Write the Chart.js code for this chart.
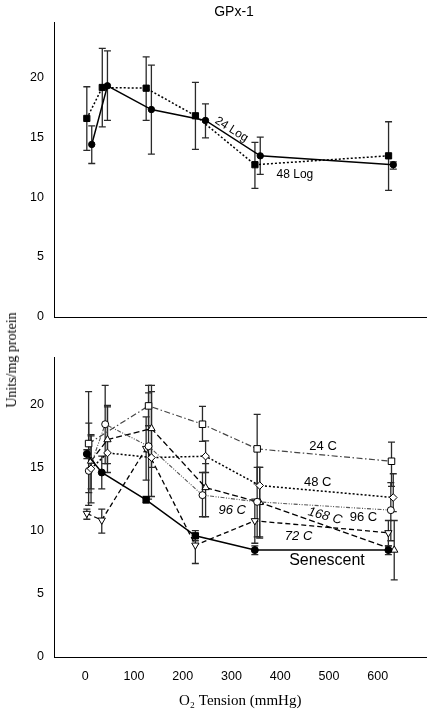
<!DOCTYPE html>
<html><head><meta charset="utf-8">
<script src="https://cdn.jsdelivr.net/npm/chart.js@4/dist/chart.umd.min.js"></script>
<style>
html,body{margin:0;padding:0;background:#fff;width:432px;height:714px;overflow:hidden;position:relative;}
#c1{position:absolute;left:0;top:0;}
#c2{position:absolute;left:0;top:340px;}
#title{position:absolute;top:3px;left:0;width:468px;text-align:center;font:14px "Liberation Sans",Arial,sans-serif;color:#000;}
#ytitle{position:absolute;left:12px;top:360px;transform:translate(-50%,-50%) rotate(-90deg);font:14px "Liberation Serif","Times New Roman",serif;white-space:nowrap;color:#000;}
</style></head>
<body>
<canvas id="c1" width="432" height="340"></canvas>
<canvas id="c2" width="432" height="374"></canvas>
<div id="title">GPx-1</div>
<div id="ytitle">Units/mg protein</div>
<script>
// ---------- tick labels ----------
const xTicks = [0, 100, 200, 300, 400, 500, 600];
const yTicks = [0, 5, 10, 15, 20];

// ---------- top panel ----------
const top24LogX = [13.4, 45.6, 135.7, 246.6, 358.9, 631.7];
const top24LogY = [14.39, 19.28, 17.3, 16.39, 13.44, 12.7];
const top24LogLo = [12.8, 16.39, 13.58, 14.94, 11.89, 12.33];
const top24LogHi = [15.94, 22.2, 21.0, 17.78, 15.0, 12.94];

const top48LogX = [3.3, 35, 125, 226, 348, 622];
const top48LogY = [16.56, 19.14, 19.08, 16.78, 12.7, 13.44];
const top48LogLo = [13.9, 15.86, 16.4, 13.97, 10.72, 10.56];
const top48LogHi = [19.2, 22.4, 21.7, 19.56, 14.56, 16.28];

// ---------- bottom panel ----------
const senX = [3.4, 34, 125, 226, 348, 622];
const senY = [16.07, 14.6, 12.44, 9.59, 8.46, 8.46];
const senLo = [15.7, 13.3, 12.2, 9.2, 8.1, 8.1];
const senHi = [16.4, 15.9, 12.7, 10.0, 8.8, 8.8];

const c24X = [7, 130, 240.6, 352.8, 628.4];
const c24Y = [16.89, 19.87, 18.42, 16.47, 15.49];
const c24Lo = [12.0, 18.3, 17.07, 13.7, 13.5];
const c24Hi = [21.0, 21.5, 19.84, 19.2, 17.0];

const c48X = [12, 45.7, 136, 247, 358, 632];
const c48Y = [14.9, 16.15, 15.78, 15.89, 13.57, 12.62];
const c48Lo = [12.2, 14.6, 12.7, 14.6, 9.4, 11.5];
const c48Hi = [17.6, 19.8, 21.5, 17.1, 15.0, 14.5];

const c96X = [7.4, 41, 130, 240.6, 352.8, 627];
const c96Y = [14.73, 18.42, 16.68, 12.81, 12.28, 11.62];
const c96Lo = [13.0, 15.3, 12.5, 11.1, 9.5, 9.2];
const c96Hi = [18.5, 21.5, 20.9, 14.6, 15.0, 13.8];

const c168X = [12, 45.7, 136, 247, 358, 634];
const c168Y = [15.5, 17.2, 18.08, 13.41, 12.23, 8.46];
const c168Lo = [13.3, 15.3, 15.0, 11.1, 9.5, 6.1];
const c168Hi = [17.5, 19.9, 21.0, 15.3, 15.0, 10.8];

const c72X = [3.4, 34, 125, 226, 348, 622];
const c72Y = [11.36, 10.83, 16.5, 8.85, 10.78, 9.83];
const c72Lo = [10.9, 9.8, 14.0, 7.4, 9.0, 8.8];
const c72Hi = [11.7, 11.7, 19.0, 9.6, 12.5, 10.8];

// ---------- in-plot labels ----------
const topLabelText = ['24 Log', '48 Log'];
const topLabelX = [300, 430];
const topLabelY = [15.64, 11.89];

const botLabelText = ['24 C', '48 C', '96 C', '168 C', '96 C', '72 C', 'Senescent'];
const botLabelX = [488, 477, 301.7, 492, 571, 437.8, 496];
const botLabelY = [16.68, 13.78, 11.57, 11.15, 11.04, 9.51, 7.64];

// ---------- helpers ----------
const pts = (xs, ys) => xs.map((x, i) => ({x: x, y: ys[i]}));

const errorBars = {
  id: 'errorBars',
  beforeDatasetsDraw(chart) {
    const ctx = chart.ctx, xs = chart.scales.x, ys = chart.scales.y;
    chart.data.datasets.forEach(ds => {
      if (!ds.errLow) return;
      ctx.save();
      ctx.strokeStyle = ds.errColor || '#2a2a2a';
      ctx.lineWidth = 1.3;
      ctx.setLineDash([]);
      ds.data.forEach((p, i) => {
        const px = xs.getPixelForValue(p.x);
        const pl = ys.getPixelForValue(ds.errLow[i]);
        const ph = ys.getPixelForValue(ds.errHigh[i]);
        ctx.beginPath();
        ctx.moveTo(px, pl); ctx.lineTo(px, ph);
        ctx.moveTo(px - 3.5, pl); ctx.lineTo(px + 3.5, pl);
        ctx.moveTo(px - 3.5, ph); ctx.lineTo(px + 3.5, ph);
        ctx.stroke();
      });
      ctx.restore();
    });
  }
};

const textLabels = {
  id: 'textLabels',
  afterDatasetsDraw(chart, args, opts) {
    const ctx = chart.ctx, xs = chart.scales.x, ys = chart.scales.y;
    (opts.items || []).forEach(it => {
      ctx.save();
      ctx.translate(xs.getPixelForValue(it.x), ys.getPixelForValue(it.y));
      ctx.rotate((it.rot || 0) * Math.PI / 180);
      ctx.font = it.font;
      ctx.fillStyle = '#000';
      ctx.textAlign = 'center';
      ctx.textBaseline = 'middle';
      ctx.fillText(it.text, 0, 0);
      ctx.restore();
    });
  }
};

function axisOpts(yMax, topPad, xHeight, showX) {
  return {
    responsive: false, animation: false, maintainAspectRatio: false,
    layout: {padding: {top: topPad, left: 0, right: 0, bottom: 0}},
    plugins: {legend: {display: false}, tooltip: {enabled: false}},
    elements: {line: {tension: 0}},
    scales: {
      x: {
        type: 'linear', min: -64, max: 700,
        grid: {display: false, drawTicks: false},
        border: {display: true, color: '#000', width: 1},
        afterBuildTicks: s => { s.ticks = xTicks.map(v => ({value: v})); },
        ticks: {display: showX, color: '#000', padding: 12.5,
                font: {family: '"Liberation Sans", Arial, sans-serif', size: 12.5}},
        title: {display: showX, text: 'O\u2082 Tension (mmHg)', color: '#000',
                padding: {top: 0, bottom: 4},
                font: {family: '"Liberation Serif", "Times New Roman", serif', size: 15}},
        afterFit: s => { s.height = xHeight; }
      },
      y: {
        min: 0, max: yMax,
        grid: {display: false, drawTicks: false},
        border: {display: true, color: '#000', width: 1},
        afterBuildTicks: s => { s.ticks = yTicks.map(v => ({value: v})); },
        ticks: {color: '#000', padding: 10,
                font: {family: '"Liberation Sans", Arial, sans-serif', size: 12.5}},
        afterFit: s => { s.width = 54; }
      }
    }
  };
}

// ---------- top chart ----------
const topOpts = axisOpts(24.6, 22, 23, false);
topOpts.plugins.textLabels = {items: [
  {text: topLabelText[0], x: topLabelX[0], y: topLabelY[0], rot: 32, font: '12px "Liberation Sans", Arial, sans-serif'},
  {text: topLabelText[1], x: topLabelX[1], y: topLabelY[1], rot: 0, font: '12px "Liberation Sans", Arial, sans-serif'}
]};
new Chart(document.getElementById('c1'), {
  type: 'line',
  data: {datasets: [
    {label: '24 Log', data: pts(top24LogX, top24LogY), errLow: top24LogLo, errHigh: top24LogHi,
     borderColor: '#000', borderWidth: 1.5, pointStyle: 'circle', pointRadius: 3.2,
     pointBackgroundColor: '#000', pointBorderColor: '#000', pointBorderWidth: 1},
    {label: '48 Log', data: pts(top48LogX, top48LogY), errLow: top48LogLo, errHigh: top48LogHi,
     borderColor: '#000', borderWidth: 1.5, borderDash: [2, 2], pointStyle: 'rect', pointRadius: 4.4,
     pointBackgroundColor: '#000', pointBorderColor: '#000', pointBorderWidth: 1}
  ]},
  options: topOpts,
  plugins: [errorBars, textLabels]
});

// ---------- bottom chart ----------
const botOpts = axisOpts(23.7, 17.3, 57, true);
const sf = '13px "Liberation Sans", Arial, sans-serif';
const sfi = 'italic 13px "Liberation Sans", Arial, sans-serif';
botOpts.plugins.textLabels = {items: [
  {text: botLabelText[0], x: botLabelX[0], y: botLabelY[0], rot: 0, font: sf},
  {text: botLabelText[1], x: botLabelX[1], y: botLabelY[1], rot: 0, font: sf},
  {text: botLabelText[2], x: botLabelX[2], y: botLabelY[2], rot: 0, font: sfi},
  {text: botLabelText[3], x: botLabelX[3], y: botLabelY[3], rot: 15, font: sfi},
  {text: botLabelText[4], x: botLabelX[4], y: botLabelY[4], rot: 0, font: sf},
  {text: botLabelText[5], x: botLabelX[5], y: botLabelY[5], rot: 0, font: sfi},
  {text: botLabelText[6], x: botLabelX[6], y: botLabelY[6], rot: 0, font: '16px "Liberation Sans", Arial, sans-serif'}
]};
const openPt = {pointBackgroundColor: '#fff', pointBorderColor: '#000', pointBorderWidth: 1};
new Chart(document.getElementById('c2'), {
  type: 'line',
  data: {datasets: [
    Object.assign({label: 'Senescent', data: pts(senX, senY), errLow: senLo, errHigh: senHi,
     borderColor: '#000', borderWidth: 1.5,
     pointStyle: ['circle', 'circle', 'rect', 'rect', 'circle', 'circle'],
     pointRadius: [3.5, 3.5, 4.5, 4.5, 3.5, 3.5],
     pointBackgroundColor: '#000', pointBorderColor: '#000', pointBorderWidth: 1}),
    Object.assign({label: '24 C', data: pts(c24X, c24Y), errLow: c24Lo, errHigh: c24Hi,
     borderColor: '#444', borderWidth: 1.2, borderDash: [6, 2.5, 1.5, 2.5],
     pointStyle: 'rect', pointRadius: 4.6}, openPt),
    Object.assign({label: '48 C', data: pts(c48X, c48Y), errLow: c48Lo, errHigh: c48Hi,
     borderColor: '#000', borderWidth: 1.5, borderDash: [2, 2],
     pointStyle: 'rectRot', pointRadius: 3.8}, openPt),
    Object.assign({label: '96 C', data: pts(c96X, c96Y), errLow: c96Lo, errHigh: c96Hi,
     borderColor: '#555', borderWidth: 1.1, borderDash: [4, 1.5, 1, 1.5, 1, 1.5],
     pointStyle: 'circle', pointRadius: 3.5}, openPt),
    Object.assign({label: '168 C', data: pts(c168X, c168Y), errLow: c168Lo, errHigh: c168Hi,
     borderColor: '#000', borderWidth: 1.3, borderDash: [6, 3],
     pointStyle: 'triangle', pointRadius: 4.2}, openPt),
    Object.assign({label: '72 C', data: pts(c72X, c72Y), errLow: c72Lo, errHigh: c72Hi,
     borderColor: '#000', borderWidth: 1.3, borderDash: [5, 3],
     pointStyle: 'triangle', pointRotation: 180, pointRadius: 4.2}, openPt)
  ]},
  options: botOpts,
  plugins: [errorBars, textLabels]
});
</script>
</body></html>
